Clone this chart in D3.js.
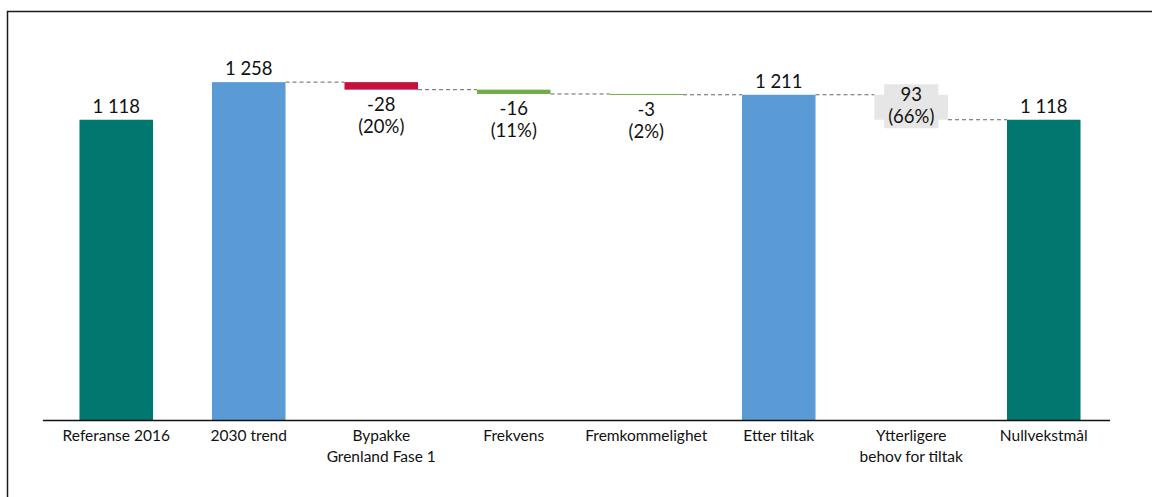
<!DOCTYPE html>
<html>
<head>
<meta charset="utf-8">
<script src="https://cdn.jsdelivr.net/npm/d3@7"></script>
<style>
  html, body { margin: 0; padding: 0; background: #fff; }
  svg { display: block; }
  text { font-family: Lato, "Open Sans", sans-serif; fill: #111; }
</style>
</head>
<body>
<svg id="chart" width="1152" height="497"></svg>
<script>
// Categories (multi-line labels split into lines)
const categories = [
  ["Referanse 2016"],
  ["2030 trend"],
  ["Bypakke", "Grenland Fase 1"],
  ["Frekvens"],
  ["Fremkommelighet"],
  ["Etter tiltak"],
  ["Ytterligere", "behov for tiltak"],
  ["Nullvekstmål"]
];
// Totals are absolute levels, steps are changes from the running level
const values = [1118, 1258, -28, -16, -3, 1211, -93, 1118];
const kinds = ["total", "total", "step", "step", "step", "total", "step", "total"];
// Share of the total gap covered by each step
const shares = [null, null, 20, 11, 2, null, 66, null];
const colors = ["#00776f", "#5b9bd5", "#c50f3c", "#70ad47", "#70ad47", "#5b9bd5", "#e6e6e6", "#00776f"];
const yTicks = [0, 1400];

const svg = d3.select("#chart");
// Space as thousands separator, plain hyphen for negatives
const fmt = v => (v < 0 ? "-" : "") + d3.format(",")(Math.abs(v)).replace(/,/g, " ");

// Frame
svg.append("rect")
  .attr("x", 7.5).attr("y", 11.5)
  .attr("width", 1200).attr("height", 600)
  .attr("fill", "none").attr("stroke", "#1a1a1a").attr("stroke-width", 1.5);

const keys = categories.map((c, i) => "c" + i);
const x = d3.scaleBand().domain(keys).range([50, 1110])
  .paddingInner(0.445).paddingOuter(0.2225);
const y = d3.scaleLinear().domain(d3.extent(yTicks)).range([420, 44]);

// Build waterfall segments
let level = 0;
const bars = values.map((v, i) => {
  let lo, hi, end;
  if (kinds[i] === "total") { lo = 0; hi = v; end = v; }
  else { end = level + v; lo = Math.min(level, end); hi = Math.max(level, end); }
  level = end;
  return { key: keys[i], value: v, kind: kinds[i], lo, hi, end, share: shares[i], color: colors[i] };
});

// Dashed connectors between consecutive bars
const connectors = bars.slice(1, -1).map((b, j) => ({ from: bars[j + 1], to: bars[j + 2], level: bars[j + 1].end }));
svg.append("g").selectAll("line").data(connectors).join("line")
  .attr("x1", d => x(d.from.key) + x.bandwidth())
  .attr("x2", d => x(d.to.key))
  .attr("y1", d => y(d.level)).attr("y2", d => y(d.level))
  .attr("stroke", "#666").attr("stroke-width", 1)
  .attr("stroke-dasharray", "4,3");

// Bars
svg.append("g").selectAll("rect").data(bars).join("rect")
  .attr("x", d => x(d.key))
  .attr("width", x.bandwidth())
  .attr("y", d => y(d.hi))
  .attr("height", d => Math.max(1, y(d.lo) - y(d.hi)))
  .attr("fill", d => d.color);

// Value labels
const labels = svg.append("g").attr("font-size", 18.5).attr("text-anchor", "middle");
bars.forEach((b, i) => {
  const cx = x(b.key) + x.bandwidth() / 2;
  if (b.kind === "total") {
    labels.append("text").attr("x", cx).attr("y", y(b.hi) - 7).text(fmt(b.value));
    return;
  }
  const lines = [fmt(i === 6 ? Math.abs(b.value) : b.value), "(" + b.share + "%)"];
  let base;
  if (i === 6) base = (y(b.hi) + y(b.lo)) / 2 - 6;
  else base = y(b.lo) + 21;
  const g = labels.append("g");
  const t = g.append("text").attr("x", cx).attr("y", base);
  lines.forEach((ln, k) => {
    t.append("tspan").attr("x", cx).attr("dy", k === 0 ? 0 : 22).text(ln);
  });
  if (i === 6) {
    const bb = t.node().getBBox();
    g.insert("rect", "text")
      .attr("x", bb.x - 4).attr("y", bb.y + 1)
      .attr("width", bb.width + 8).attr("height", bb.height)
      .attr("fill", "#e6e6e6");
  }
});

// Category axis
const axis = svg.append("g").attr("transform", "translate(0,420.5)")
  .call(d3.axisBottom(x).tickSize(0).tickSizeOuter(0).tickFormat(""));
axis.select(".domain")
  .attr("d", `M${x.range()[0] - 7},0H${x.range()[1]}`)
  .attr("stroke", "#111").attr("stroke-width", 1.5);
axis.selectAll(".tick").each(function(d, i) {
  const t = d3.select(this).select("text")
    .attr("y", 0).attr("dy", null)
    .attr("font-size", 15.5).attr("fill", "#111")
    .style("font-family", "Lato, 'Open Sans', sans-serif");
  categories[i].forEach((ln, k) => {
    t.append("tspan").attr("x", 0).attr("y", 20 + k * 21).text(ln);
  });
});
</script>
</body>
</html>
